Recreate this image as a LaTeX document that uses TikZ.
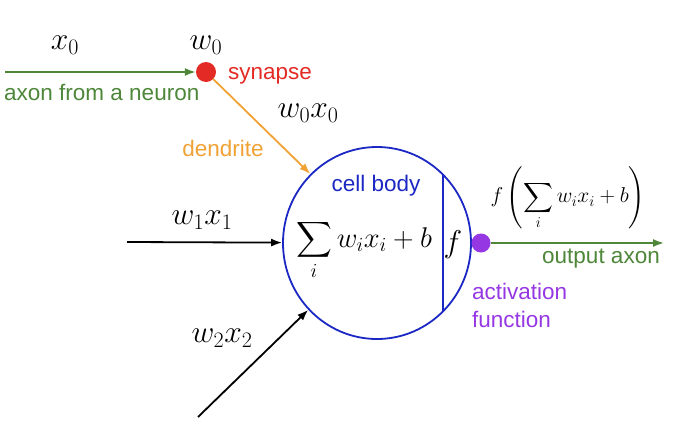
\RequirePackage{fix-cm}
\documentclass[tikz,border=0pt]{standalone}
\usepackage{amsmath}
\usepackage{fontspec}
\newfontfamily\labfont{Liberation Sans}
\usetikzlibrary{shapes.geometric,arrows.meta,calc}
\definecolor{axgreen}{RGB}{78,135,58}
\definecolor{synred}{RGB}{228,42,36}
\definecolor{dendorange}{RGB}{240,162,52}
\definecolor{bodyblue}{RGB}{28,40,196}
\definecolor{actpurple}{RGB}{150,55,228}
\begin{document}
\begin{tikzpicture}[x=1pt,y=-1pt,
  lab/.style={font=\labfont\fontsize{22.5}{28}\selectfont, inner sep=0pt},
  mathlab/.style={font=\fontsize{31.5}{36}\selectfont, inner sep=0pt},
  conn/.style={line width=1.8pt, -{Latex[length=11pt,width=8pt]}},
  dot/.style={circle, inner sep=0pt, minimum size=20pt},
]
\useasboundingbox[fill=white] (0,0) rectangle (682,442);

% main shapes
\node[dot, fill=synred] (syn) at (206,72) {};
\node[ellipse, draw=bodyblue, line width=1.8pt, minimum width=188pt, minimum height=192pt, inner sep=0pt] (body) at (377,243) {};
\node[dot, fill=actpurple, minimum size=19pt] (act) at (481,243) {};
\coordinate (in) at (5,72);
\coordinate (out) at (664,243);
\coordinate (c1) at (127,242);
\coordinate (c2) at (198,417);

% connectors
\draw[conn, axgreen] (in) -- (syn);
\draw[conn, dendorange] (syn) -- (body.134);
\draw[conn, black] (c1) -- (body);
\draw[conn, black] (c2) -- (body);
\draw[conn, axgreen] (act) -- (out);
\draw[bodyblue, line width=1.8pt] ($(body.center)+(66,-68.4)$) -- ($(body.center)+(66,68.4)$);

% math labels
\node[mathlab] (x0) at (65,45) {$x_0$};
\node[mathlab] (w0) at (206,45) {$w_0$};
\node[mathlab] (w0x0) at (308,113) {$w_0x_0$};
\node[mathlab] (w1x1) at (202,220) {$w_1x_1$};
\node[mathlab] (w2x2) at (222,338) {$w_2x_2$};
\node[font=\fontsize{28.5}{34}\selectfont, inner sep=0pt] (sum) at (364,250) {$\displaystyle\sum_i w_ix_i+b$};
\node[mathlab] (f) at (453,245) {$f$};
\node[font=\fontsize{21.5}{25}\selectfont, inner sep=0pt] (fout) at (568,198) {$\displaystyle f\left(\sum_i w_ix_i+b\right)$};

% text labels
\node[lab, text=synred, anchor=west] (synl) at (228,76) {synapse};
\node[lab, text=axgreen, anchor=west] (axl) at (4,92) {axon from a neuron};
\node[lab, text=dendorange] (dendl) at (223,148) {dendrite};
\node[lab, text=bodyblue] (cell) at (376,186) {cell body};
\node[lab, text=axgreen] (outl) at (601,259) {output axon};
\node[lab, text=actpurple, anchor=north west, align=left] (actl) at (472,283) {activation\\function};
\end{tikzpicture}
\end{document}
